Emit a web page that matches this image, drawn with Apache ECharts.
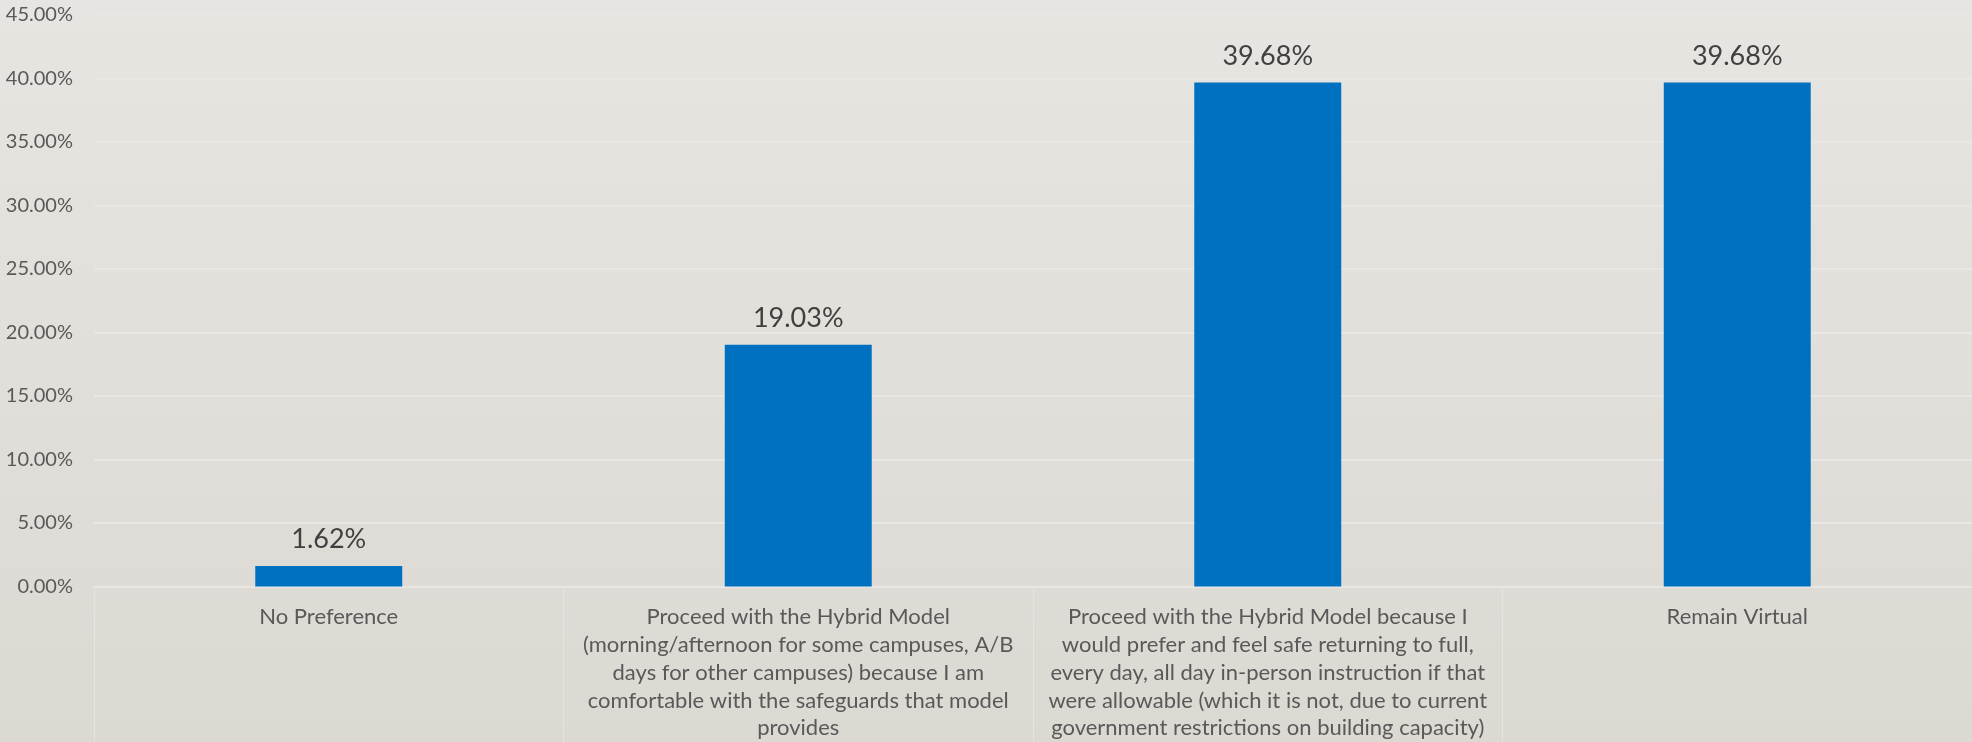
<!DOCTYPE html>
<html>
<head>
<meta charset="utf-8">
<style>
  html, body { margin: 0; padding: 0; }
  #chart { width: 1972px; height: 742px; }
</style>
<script src="https://cdn.jsdelivr.net/npm/echarts@6/dist/echarts.min.js"></script>
</head>
<body>
<div id="chart"></div>
<script>
// Survey response categories (line breaks as shown under the axis)
const categories = [
  'No Preference',
  'Proceed with the Hybrid Model\n(morning/afternoon for some campuses, A/B\ndays for other campuses) because I am\ncomfortable with the safeguards that model\nprovides',
  'Proceed with the Hybrid Model because I\nwould prefer and feel safe returning to full,\nevery day, all day in-person instruction if that\nwere allowable (which it is not, due to current\ngovernment restrictions on building capacity)',
  'Remain Virtual'
];

// Share of respondents, percent
const shares = [1.62, 19.03, 39.68, 39.68];

// Value axis range and step, percent
const axisMin = 0;
const axisMax = 45;
const axisStep = 5;

const chart = echarts.init(document.getElementById('chart'));

chart.setOption({
  backgroundColor: {
    type: 'linear', x: 0, y: 0, x2: 0, y2: 1,
    colorStops: [
      { offset: 0, color: '#e7e5e1' },
      { offset: 1, color: '#dcd9d3' }
    ]
  },
  textStyle: { fontFamily: 'Lato' },
  grid: { left: 94, right: 0, top: 15, bottom: 155.5, containLabel: false },
  xAxis: {
    type: 'category',
    data: categories,
    axisLine: { show: true, lineStyle: { color: '#e9e7e3', width: 2 } },
    // long boundary ticks divide the label area into cells
    axisTick: {
      show: true,
      alignWithLabel: false,
      length: 156,
      lineStyle: { color: '#e5e4e1', width: 1 }
    },
    axisLabel: {
      interval: 0,
      margin: 17,
      color: '#595959',
      fontFamily: 'Lato',
      fontSize: 22,
      lineHeight: 27.7,
      align: 'center'
    }
  },
  yAxis: {
    type: 'value',
    min: axisMin,
    max: axisMax,
    interval: axisStep,
    axisLine: { show: false },
    axisTick: { show: false },
    splitLine: { show: true, lineStyle: { color: '#e9e7e3', width: 2 } },
    axisLabel: {
      margin: 21,
      color: '#595959',
      fontFamily: 'Lato',
      fontSize: 20,
      formatter: v => v.toFixed(2) + '%'
    }
  },
  series: [{
    type: 'bar',
    data: shares,
    barWidth: '31.3%',
    itemStyle: { color: '#0070c0' },
    label: {
      show: true,
      position: 'top',
      distance: 13,
      color: '#404040',
      fontFamily: 'Lato',
      fontSize: 27,
      formatter: p => p.value.toFixed(2) + '%'
    },
    animation: false
  }],
  animation: false
});
</script>
</body>
</html>
